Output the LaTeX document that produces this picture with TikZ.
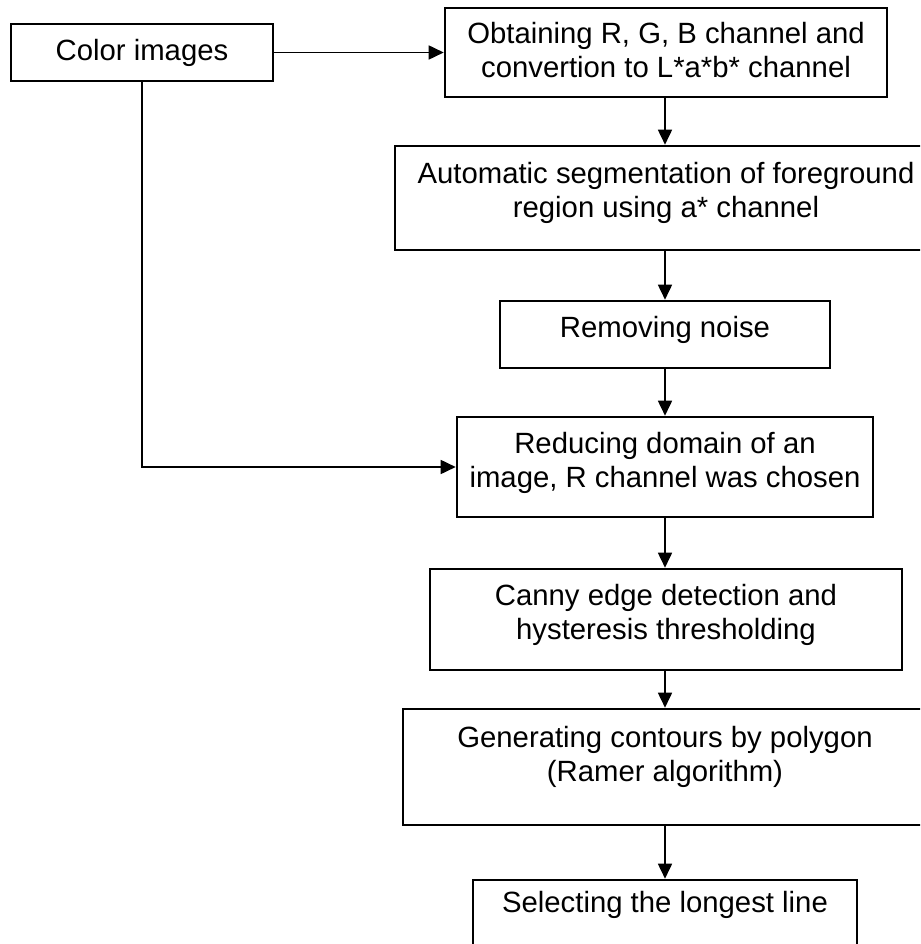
\documentclass[tikz,border=0pt]{standalone}
\usepackage{fontspec}
\setmainfont{Liberation Sans}
\usetikzlibrary{arrows.meta,calc}
\begin{document}
\begin{tikzpicture}[x=1pt,y=-1pt,
  box/.style={draw=black, line width=2.6pt, inner sep=0pt, fill=none},
  txt/.style={inner sep=0pt, align=center, anchor=north,
    font=\fontsize{29.3pt}{33.5pt}\selectfont},
  arr/.style={draw=black, line width=1.7pt, -{Triangle[length=15pt,width=14pt]}}]
\useasboundingbox (0,0) rectangle (920,944);
\clip (0,0) rectangle (920,944);
\fill[white] (0,0) rectangle (920,944);
% boxes
\node[box, minimum width=262pt, minimum height=57pt]  (color)  at (142,52.5) {};
\node[box, minimum width=442pt, minimum height=89pt]  (obtain) at (666,52.5) {};
\node[box, minimum width=542pt, minimum height=104pt] (auto)   at (666,198) {};
\node[box, minimum width=330pt, minimum height=67pt]  (noise)  at (665,334.5) {};
\node[box, minimum width=416pt, minimum height=100pt] (reduce) at (665,467) {};
\node[box, minimum width=472pt, minimum height=101pt] (canny)  at (666,619.5) {};
\node[box, minimum width=524pt, minimum height=116pt] (gen)    at (665,767) {};
\node[box, minimum width=384pt, minimum height=80pt]  (select) at (665,920) {};
% texts
\node[txt] (tcolor)  at ($(color.north)+(0,14.5)$)  {\strut Color images};
\node[txt] (tobtain) at ($(obtain.north)+(0,13.5)$) {\strut Obtaining R, G, B channel and\\\strut convertion to L*a*b* channel};
\node[txt] (tauto)   at ($(auto.north)+(0,15.5)$)   {\strut Automatic segmentation of foreground\\\strut region using a* channel};
\node[txt] (tnoise)  at ($(noise.north)+(0,14.5)$)  {\strut Removing noise};
\node[txt] (treduce) at ($(reduce.north)+(0,14.5)$) {\strut Reducing domain of an\\\strut image, R channel was chosen};
\node[txt] (tcanny)  at ($(canny.north)+(0,14.5)$)  {\strut Canny edge detection and\\\strut hysteresis thresholding};
\node[txt] (tgen)    at ($(gen.north)+(0,16.5)$)    {\strut Generating contours by polygon\\\strut (Ramer algorithm)};
\node[txt] (tselect) at ($(select.north)+(0,10.5)$) {\strut Selecting the longest line};
% connectors
\draw[arr] (obtain.south -| noise.north) -- (auto.north -| noise.north);
\draw[arr] (color.east) -- (obtain.west);
\draw[arr] (noise.north |- auto.south) -- (noise.north);
\draw[arr] (noise.south) -- (noise.south |- reduce.north);
\draw[arr] (reduce.south) -- (reduce.south |- canny.north);
\draw[arr] (canny.south -| noise.north) -- (gen.north -| noise.north);
\draw[arr] (select.north |- gen.south) -- (select.north);
\draw[arr] (color.south) |- (reduce.west);
\end{tikzpicture}
\end{document}
